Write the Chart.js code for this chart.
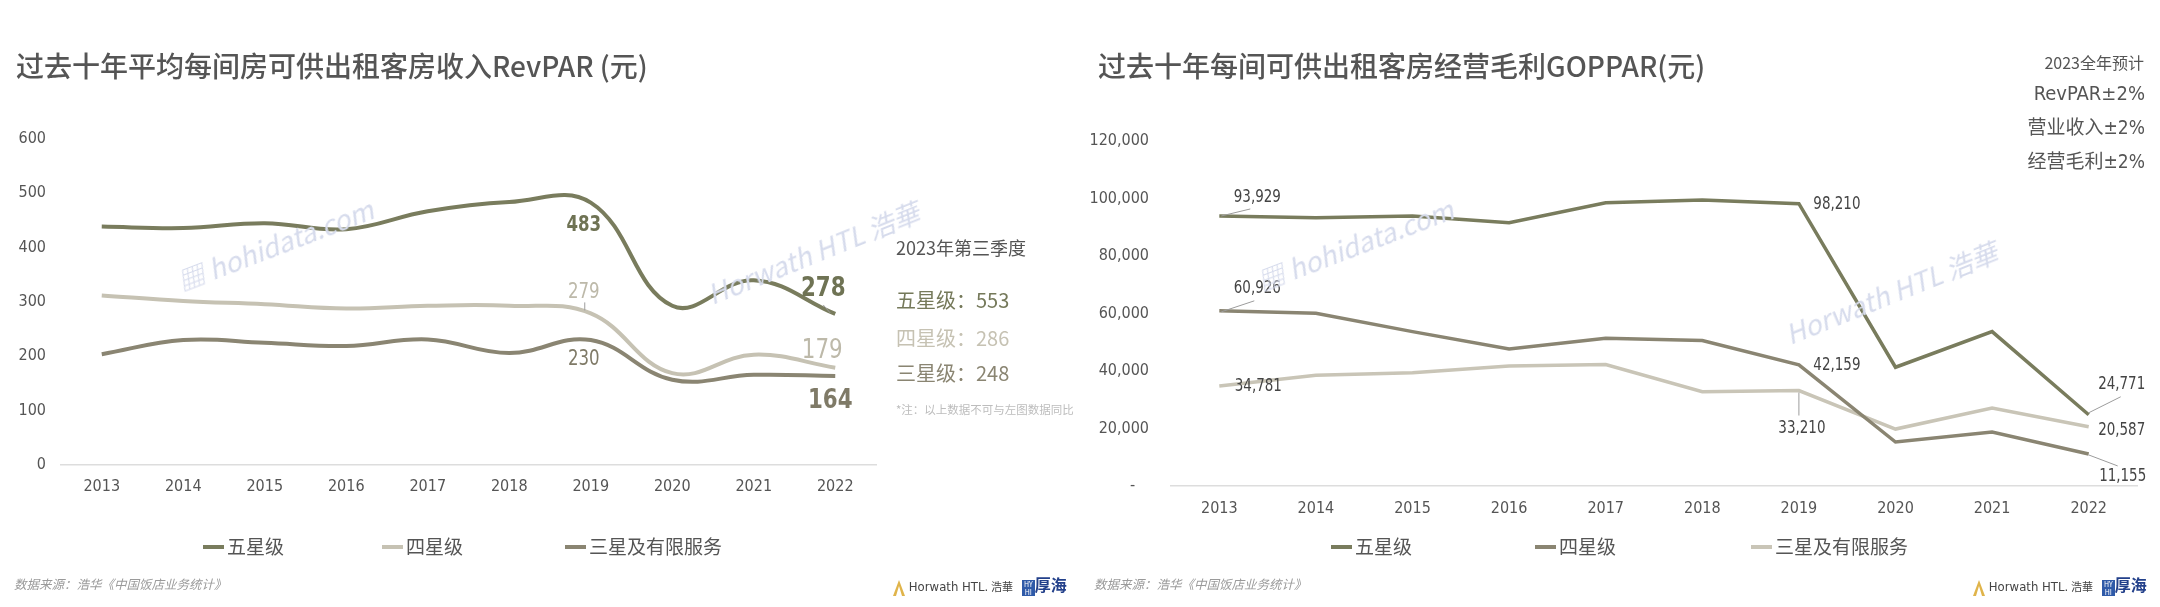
<!DOCTYPE html>
<html>
<head>
<meta charset="utf-8">
<script src="https://cdn.jsdelivr.net/npm/chart.js@4.4.1/dist/chart.umd.min.js"></script>
<style>
  body { margin: 0; width: 2160px; height: 607px; background: #fff; position: relative; overflow: hidden;
         font-family: "Noto Sans CJK SC", sans-serif; color: #555; }
  canvas { position: absolute; top: 0; }
  .t { position: absolute; white-space: nowrap; }
  .title { font-size: 28px; line-height: 28px; top: 51px; font-weight: 500; color: #555; }
  .narrow { font-family: "DejaVu Sans Condensed", "Noto Sans CJK SC", sans-serif; }
  .leg { position: absolute; top: 535px; height: 22px; line-height: 22px; font-size: 19px; color: #555; white-space: nowrap; }
  .leg i { display: inline-block; width: 21px; height: 4px; vertical-align: middle; margin-right: 3px; position: relative; top: -2px; }
  .foot { position: absolute; top: 575px; font-size: 12.5px; line-height: 18px; font-style: italic; color: #9a9a9a; white-space: nowrap; }
  .logo { position: absolute; top: 574px; height: 20px; line-height: 20px; white-space: nowrap; font-size: 12.5px; color: #444; }
  .wm { position: absolute; white-space: nowrap; color: #d6dbec; font-style: italic; font-size: 27px; transform-origin: 0 50%; pointer-events: none; }
</style>
</head>
<body>
<canvas id="revparChart" width="1080" height="607" style="left:0"></canvas>
<canvas id="gopparChart" width="1080" height="607" style="left:1080px"></canvas>

<div class="t title" style="left:16px">过去十年平均每间房可供出租客房收入RevPAR (元)</div>
<div class="t title" style="left:1098px">过去十年每间可供出租客房经营毛利GOPPAR(元)</div>

<div class="t" style="right:16px;top:53px;font-size:16px;line-height:18px">2023全年预计</div>
<div class="t narrow" style="right:15px;top:81px;font-size:20px;line-height:24px">RevPAR±2%</div>
<div class="t narrow" style="right:15px;top:115px;font-size:19px;line-height:24px">营业收入±2%</div>
<div class="t narrow" style="right:15px;top:149px;font-size:19px;line-height:24px">经营毛利±2%</div>

<div class="t" style="left:896px;top:236px;font-size:18px;line-height:22px;color:#555">2023年第三季度</div>
<div class="t" style="left:896px;top:288px;font-size:20px;line-height:24px;color:#75795a">五星级：553</div>
<div class="t" style="left:896px;top:326px;font-size:20px;line-height:24px;color:#c6c2b3">四星级：286</div>
<div class="t" style="left:896px;top:361px;font-size:20px;line-height:24px;color:#8a8572">三星级：248</div>
<div class="t" style="left:896px;top:402px;font-size:11.5px;line-height:14px;color:#bdbdbd">*注：以上数据不可与左图数据同比</div>

<div class="leg" style="left:203px"><i style="background:#797c5d"></i>五星级</div>
<div class="leg" style="left:382px"><i style="background:#c6c2b3"></i>四星级</div>
<div class="leg" style="left:565px"><i style="background:#8a8572"></i>三星及有限服务</div>
<div class="leg" style="left:1331px"><i style="background:#797c5d"></i>五星级</div>
<div class="leg" style="left:1535px"><i style="background:#8a8572"></i>四星级</div>
<div class="leg" style="left:1751px"><i style="background:#c9c5b7"></i>三星及有限服务</div>

<div class="foot" style="left:14px">数据来源：浩华《中国饭店业务统计》</div>
<div class="foot" style="left:1094px">数据来源：浩华《中国饭店业务统计》</div>

<div class="logo" style="left:892px">
  <svg width="14" height="18" viewBox="0 0 14 18" style="vertical-align:middle"><path d="M7 1 L13 17 L10 17 L7 7 L4 17 L1 17 Z" fill="#e0b44a"/></svg>
  <span class="narrow" style="font-size:13px">Horwath HTL.</span> <span style="font-size:11px">浩華</span>
  <span style="display:inline-block;width:13px;height:16px;background:#2f5aa8;color:#fff;font-size:7px;line-height:8px;text-align:center;vertical-align:middle;margin-left:6px">HY<br>HI</span><span style="font-size:16px;color:#23408a;font-weight:700">厚海</span>
</div>
<div class="logo" style="left:1972px">
  <svg width="14" height="18" viewBox="0 0 14 18" style="vertical-align:middle"><path d="M7 1 L13 17 L10 17 L7 7 L4 17 L1 17 Z" fill="#e0b44a"/></svg>
  <span class="narrow" style="font-size:13px">Horwath HTL.</span> <span style="font-size:11px">浩華</span>
  <span style="display:inline-block;width:13px;height:16px;background:#2f5aa8;color:#fff;font-size:7px;line-height:8px;text-align:center;vertical-align:middle;margin-left:6px">HY<br>HI</span><span style="font-size:16px;color:#23408a;font-weight:700">厚海</span>
</div>

<div class="wm" style="left:178px;top:262px;transform:rotate(-21deg)">▦ hohidata.com</div>
<div class="wm" style="left:708px;top:275px;transform:rotate(-22deg)">Horwath HTL 浩華</div>
<div class="wm" style="left:1258px;top:262px;transform:rotate(-21deg)">▦ hohidata.com</div>
<div class="wm" style="left:1786px;top:315px;transform:rotate(-22deg)">Horwath HTL 浩華</div>

<script>
// ---- data ----
const years = ['2013', '2014', '2015', '2016', '2017', '2018', '2019', '2020', '2021', '2022'];

// RevPAR (元)
const revparFive  = [439, 436, 445, 434, 467, 484, 483, 293, 340, 278];
const revparFour  = [312, 302, 296, 288, 293, 293, 279, 169, 203, 179];
const revparThree = [204, 230, 225, 219, 231, 206, 230, 157, 166, 164];

// GOPPAR (元)
const gopparFive  = [93929, 93300, 93900, 91550, 98550, 99500, 98210, 41300, 53700, 24771];
const gopparFour  = [60926, 60100, 53700, 47640, 51370, 50600, 42159, 15300, 18800, 11155];
const gopparThree = [34781, 38550, 39370, 41700, 42280, 32800, 33210, 19800, 27100, 20587];

const revparTicks = [0, 100, 200, 300, 400, 500, 600];
const gopparTicks = [0, 20000, 40000, 60000, 80000, 100000, 120000];

const colors = {
  olive: '#797c5d',
  light: '#c6c2b3',
  lightR: '#c9c5b7',
  taupe: '#8a8572'
};
const narrow = "'DejaVu Sans Condensed', sans-serif";

// draws value labels next to chosen points, positions come from the scales
const makeLabels = (id, items, format) => ({
  id: id,
  afterDatasetsDraw(chart) {
    const ctx = chart.ctx;
    items.forEach(it => {
      const pt = chart.getDatasetMeta(it.ds).data[it.idx];
      const value = chart.data.datasets[it.ds].data[it.idx];
      ctx.save();
      if (it.leader) {
        ctx.strokeStyle = '#9c9c9c';
        ctx.lineWidth = 1;
        ctx.beginPath();
        ctx.moveTo(pt.x + it.leader[0], pt.y + it.leader[1]);
        ctx.lineTo(pt.x + it.leader[2], pt.y + it.leader[3]);
        ctx.stroke();
      }
      ctx.font = (it.bold ? 'bold ' : '') + it.size + 'px ' + narrow;
      ctx.fillStyle = it.color;
      ctx.textAlign = 'center';
      ctx.textBaseline = 'middle';
      // squeeze a little, the original face is narrower
      ctx.translate(pt.x + it.dx, pt.y + it.dy);
      ctx.scale(0.88, 1);
      ctx.fillText(format(value), 0, 0);
      ctx.restore();
    });
  }
});

const tickFont = { family: narrow, size: 16 };

// ---- left: RevPAR ----
const revparLabels = makeLabels('revparLabels', [
  { ds: 0, idx: 6, dx: -7, dy: 23, size: 21, bold: true, color: '#6f7354' },
  { ds: 1, idx: 6, dx: -7, dy: -21, size: 21, color: '#bdb9a9', leader: [-6, -3, -6, -11] },
  { ds: 2, idx: 6, dx: -7, dy: 20, size: 21, color: '#7f7a67' },
  { ds: 0, idx: 9, dx: -12, dy: -25, size: 27, bold: true, color: '#6f7354', leader: [-5, -1, -12, -9] },
  { ds: 1, idx: 9, dx: -13, dy: -17, size: 27, color: '#bdb9a9' },
  { ds: 2, idx: 9, dx: -5, dy: 25, size: 27, bold: true, color: '#7f7a67' }
], v => String(v));

new Chart(document.getElementById('revparChart'), {
  type: 'line',
  data: {
    labels: years,
    datasets: [
      { label: '五星级', data: revparFive, borderColor: colors.olive },
      { label: '四星级', data: revparFour, borderColor: colors.light },
      { label: '三星及有限服务', data: revparThree, borderColor: colors.taupe }
    ]
  },
  options: {
    responsive: false,
    animation: false,
    layout: { padding: { left: 0, right: 204, top: 139, bottom: 97 } },
    elements: {
      line: { borderWidth: 4, tension: 0.4, cubicInterpolationMode: 'default' },
      point: { radius: 0 }
    },
    plugins: { legend: { display: false }, tooltip: { enabled: false } },
    scales: {
      x: {
        offset: true,
        grid: { display: false, drawTicks: false },
        border: { display: true, color: '#dddddd', width: 1.5 },
        ticks: { color: '#555', font: tickFont, padding: 12 },
        afterFit(s) { s.height = 45; }
      },
      y: {
        min: revparTicks[0],
        max: revparTicks[revparTicks.length - 1],
        afterBuildTicks(s) { s.ticks = revparTicks.map(v => ({ value: v })); },
        grid: { display: false, drawTicks: false },
        border: { display: false },
        ticks: { color: '#555', font: tickFont, padding: 15 },
        afterFit(s) { s.width = 61; }
      }
    }
  },
  plugins: [revparLabels]
});

// ---- right: GOPPAR ----
const fmt = v => v.toLocaleString('en-US');
const gopparLabels = makeLabels('gopparLabels', [
  { ds: 0, idx: 0, dx: 38, dy: -18, size: 17, color: '#444', leader: [2, 0, 31, -7] },
  { ds: 1, idx: 0, dx: 38, dy: -22, size: 17, color: '#444', leader: [2, 1, 35, -10] },
  { ds: 2, idx: 0, dx: 39, dy: 1, size: 17, color: '#444' },
  { ds: 0, idx: 6, dx: 38, dy: 1, size: 17, color: '#444' },
  { ds: 1, idx: 6, dx: 38, dy: 1, size: 17, color: '#444' },
  { ds: 2, idx: 6, dx: 3, dy: 38, size: 17, color: '#444', leader: [0, 2, 0, 25] },
  { ds: 0, idx: 9, dx: 33, dy: -30, size: 17, color: '#444', leader: [0, -2, 32, -18] },
  { ds: 2, idx: 9, dx: 33, dy: 4, size: 17, color: '#444' },
  { ds: 1, idx: 9, dx: 34, dy: 23, size: 17, color: '#444', leader: [0, 1, 29, 12] }
], fmt);

new Chart(document.getElementById('gopparChart'), {
  type: 'line',
  data: {
    labels: years,
    datasets: [
      { label: '五星级', data: gopparFive, borderColor: colors.olive },
      { label: '四星级', data: gopparFour, borderColor: colors.taupe },
      { label: '三星及有限服务', data: gopparThree, borderColor: colors.lightR }
    ]
  },
  options: {
    responsive: false,
    animation: false,
    layout: { padding: { left: 0, right: 23, top: 141, bottom: 76 } },
    elements: {
      line: { borderWidth: 3.5, tension: 0 },
      point: { radius: 0 }
    },
    plugins: { legend: { display: false }, tooltip: { enabled: false } },
    scales: {
      x: {
        offset: true,
        grid: { display: false, drawTicks: false },
        border: { display: true, color: '#dddddd', width: 1.5 },
        ticks: { color: '#555', font: tickFont, padding: 13 },
        afterFit(s) { s.height = 45; }
      },
      y: {
        min: gopparTicks[0],
        max: gopparTicks[gopparTicks.length - 1],
        afterBuildTicks(s) { s.ticks = gopparTicks.map(v => ({ value: v })); },
        grid: { display: false, drawTicks: false },
        border: { display: false },
        ticks: {
          color: '#555', font: tickFont, padding: 22,
          callback: v => v === 0 ? '-   ' : fmt(v)
        },
        afterFit(s) { s.width = 91; }
      }
    }
  },
  plugins: [gopparLabels]
});
</script>
</body>
</html>
